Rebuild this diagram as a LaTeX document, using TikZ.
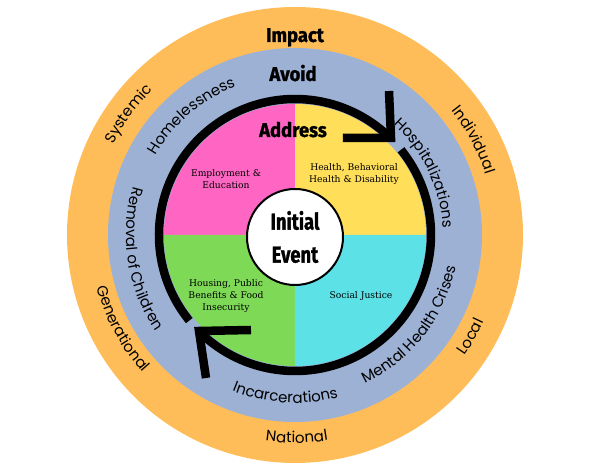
\documentclass[tikz,border=0pt]{standalone}
\usepackage{fontspec}
\setmainfont{DejaVu Serif}
\newfontfamily\ringfont{Poppins}
\newfontfamily\headfont[FakeStretch=0.92,FakeBold=1.2]{Fira Sans}
\newfontfamily\eventfont[FakeStretch=0.8,FakeBold=1.2]{Fira Sans}
\usetikzlibrary{decorations.text}

\definecolor{ringorange}{HTML}{FFBD59}
\definecolor{ringblue}{HTML}{9DB1D5}
\definecolor{quadpink}{HTML}{FF66C4}
\definecolor{quadyellow}{HTML}{FFDE59}
\definecolor{quadgreen}{HTML}{7ED957}
\definecolor{quadcyan}{HTML}{5CE1E6}

\begin{document}
\begin{tikzpicture}[x=1pt, y=1pt,
                    ringlabel/.style={decorate, decoration={text along path, text align=center,
                        text={|\ringfont\fontsize{15}{15}\selectfont|#1}}},
                    cyclearc/.style={draw=black, line width=8.5pt},
                    cyclehead/.style={cyclearc, line join=miter}]
    \tikzstyle{headlabel}=[font=\headfont\bfseries\fontsize{20}{20}\selectfont, inner sep=0pt, anchor=base]
    \tikzstyle{quadlabel}=[font=\fontsize{9.2}{12}\selectfont, align=center, inner sep=0pt]
    \tikzstyle{eventnode}=[circle, draw=black, line width=2pt, fill=white, minimum size=96pt, inner sep=0pt,
                           align=center, font=\eventfont\bfseries\fontsize{23}{33}\selectfont]

    \useasboundingbox (-295,-235) rectangle (295,235);

    % rings
    \fill[ringorange] (0,0) circle[radius=228pt];
    \fill[ringblue] (0,0) circle[radius=187pt];

    % quarters
    \fill[quadyellow] (0,0) -- (0:131pt) arc[start angle=0, end angle=90, radius=131pt] -- cycle;
    \fill[quadpink] (0,0) -- (90:131pt) arc[start angle=90, end angle=180, radius=131pt] -- cycle;
    \fill[quadgreen] (0,0) -- (180:131pt) arc[start angle=180, end angle=270, radius=131pt] -- cycle;
    \fill[quadcyan] (0,0) -- (270:131pt) arc[start angle=270, end angle=360, radius=131pt] -- cycle;

    % cycle arrows
    \draw[cyclearc] (219:136pt) arc[start angle=219, end angle=45.3, radius=136pt];
    \draw[cyclehead] (94,144) -- (96,97) -- (48,97);
    \draw[cyclearc] (38.8:136pt) arc[start angle=38.8, end angle=-135.3, radius=136pt];
    \draw[cyclehead] (-89,-143) -- (-96,-96) -- (-44,-95);

    \node[headlabel] (impact) at (0,193) {Impact};
    \node[headlabel] (avoid) at (-2,154) {Avoid};
    \node[headlabel] (address) at (-2,98) {Address};

    \node[quadlabel] (employment) at (-69,56) {Employment \&\\Education};
    \node[quadlabel] (health) at (59,61) {Health, Behavioral\\Health \& Disability};
    \node[quadlabel] (housing) at (-69,-61) {Housing, Public\\Benefits \& Food\\Insecurity};
    \node[quadlabel] (justice) at (66,-61) {Social Justice};

    \node[eventnode] (event) at (0,-2) {Initial\\Event};

    % ring texts
    \path[ringlabel=Systemic] (184:203pt) arc[start angle=184, end angle=104, radius=203pt];
    \path[ringlabel=Individual] (68:200pt) arc[start angle=68, end angle=-12, radius=200pt];
    \path[ringlabel=Generational] (168.5:205pt) arc[start angle=168.5, end angle=248.5, radius=205pt];
    \path[ringlabel=National] (230.5:208pt) arc[start angle=230.5, end angle=310.5, radius=208pt];
    \path[ringlabel=Local] (290:208pt) arc[start angle=290, end angle=370, radius=208pt];
    \path[ringlabel=Homelessness] (171:160pt) arc[start angle=171, end angle=91, radius=160pt];
    \path[ringlabel=Hospitalizations] (65.5:148pt) arc[start angle=65.5, end angle=-14.5, radius=148pt];
    \path[ringlabel=Removal of Children] (149:169pt) arc[start angle=149, end angle=229, radius=169pt];
    \path[ringlabel=Incarcerations] (226.5:168pt) arc[start angle=226.5, end angle=306.5, radius=168pt];
    \path[ringlabel=Mental Health Crises] (282:164pt) arc[start angle=282, end angle=362, radius=164pt];
\end{tikzpicture}
\end{document}
